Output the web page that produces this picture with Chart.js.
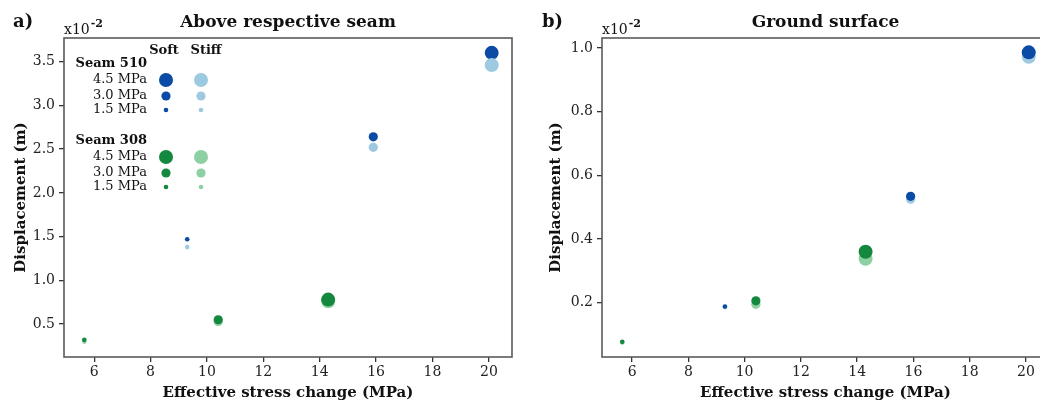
<!DOCTYPE html>
<html>
<head>
<meta charset="utf-8">
<script src="https://cdn.jsdelivr.net/npm/chart.js@4.4.0/dist/chart.umd.min.js"></script>
<style>
  html, body { margin: 0; padding: 0; background: #fff; overflow: hidden; }
  #wrap { position: relative; width: 1040px; height: 402px; overflow: hidden; }
  #ca { position: absolute; left: 0; top: 0; }
  #cb { position: absolute; left: 520px; top: 0; }
</style>
</head>
<body>
<div id="wrap">
  <div id="ca" style="width:520px;height:402px"><canvas id="chartA"></canvas></div>
  <div id="cb" style="width:540px;height:402px"><canvas id="chartB"></canvas></div>
</div>
<script>
// ---- data (displacement in units of 1e-2 m) ----
const seam510X = [9.3, 15.9, 20.1];
const seam308X = [5.65, 10.4, 14.3];
const pressures = [1.5, 3.0, 4.5];        // MPa, sets marker size
const aboveSoft510  = [1.47, 2.64, 3.60];
const aboveStiff510 = [1.38, 2.52, 3.46];
const aboveSoft308  = [0.32, 0.55, 0.78];
const aboveStiff308 = [0.30, 0.53, 0.76];
const groundSoft510  = [0.188, 0.534, 0.986];
const groundStiff510 = [0.186, 0.525, 0.972];
const groundSoft308  = [0.077, 0.206, 0.360];
const groundStiff308 = [0.075, 0.195, 0.338];
const xTicks = [6, 8, 10, 12, 14, 16, 18, 20];
const yTicksA = [0.5, 1.0, 1.5, 2.0, 2.5, 3.0, 3.5];
const yTicksB = [0.2, 0.4, 0.6, 0.8, 1.0];

const COL = { soft510: '#0b4aa5', stiff510: '#9ecae1', soft308: '#15883f', stiff308: '#8dd0a3' };
const SERIF = '"DejaVu Serif", "Liberation Serif", serif';
const radiusFor = p => (p === 4.5 ? 7 : p === 3.0 ? 4.6 : 2.3);

function pts(xs, ys) { return xs.map((x, i) => ({ x: x, y: ys[i] })); }
function ds(label, xs, ys, color, order) {
  return {
    label: label, data: pts(xs, ys), backgroundColor: color, borderWidth: 0,
    pointRadius: pressures.map(radiusFor), pointHoverRadius: pressures.map(radiusFor),
    order: order
  };
}

function framePlugin(opts) {
  return {
    id: 'frame' + opts.tag,
    afterDraw(chart) {
      const ctx = chart.ctx, a = chart.chartArea;
      ctx.save();
      ctx.strokeStyle = '#5a5a5a'; ctx.lineWidth = 1.6;
      ctx.strokeRect(a.left, a.top, a.right - a.left, a.bottom - a.top);
      ctx.fillStyle = '#111';
      // panel letter
      ctx.font = 'bold 18px ' + SERIF; ctx.textAlign = 'left'; ctx.textBaseline = 'middle';
      ctx.fillText(opts.letter, opts.letterX, 22);
      // title
      ctx.font = 'bold 17px ' + SERIF; ctx.textAlign = 'center';
      ctx.fillText(opts.title, (a.left + a.right) / 2 + (opts.titleDx || 0), 23);
      // exponent
      ctx.font = '14px ' + SERIF; ctx.textAlign = 'left'; ctx.textBaseline = 'alphabetic';
      ctx.fillText('x10', a.left, 34);
      const w = ctx.measureText('x10').width;
      ctx.font = 'bold 11px ' + SERIF;
      ctx.fillText('-2', a.left + w + 1, 27);
      // x title
      ctx.font = 'bold 15px ' + SERIF; ctx.textAlign = 'center'; ctx.textBaseline = 'middle';
      ctx.fillText('Effective stress change (MPa)', (a.left + a.right) / 2, 393);
      // y title
      ctx.save();
      ctx.translate(opts.yTitleX, (a.top + a.bottom) / 2);
      ctx.rotate(-Math.PI / 2);
      ctx.fillText('Displacement (m)', 0, 0);
      ctx.restore();
      if (opts.legend) drawLegend(chart);
      ctx.restore();
    }
  };
}

function drawLegend(chart) {
  const ctx = chart.ctx;
  const softX = 166, stiffX = 201, labR = 147;
  ctx.fillStyle = '#111'; ctx.textBaseline = 'middle';
  ctx.font = 'bold 13px ' + SERIF; ctx.textAlign = 'center';
  ctx.fillText('Soft', 164, 51);
  ctx.fillText('Stiff', 206, 51);
  const groups = [
    { name: 'Seam 510', y: 64, rows: [80, 96, 110], soft: COL.soft510, stiff: COL.stiff510 },
    { name: 'Seam 308', y: 141, rows: [157, 173, 187], soft: COL.soft308, stiff: COL.stiff308 }
  ];
  const labels = ['4.5 MPa', '3.0 MPa', '1.5 MPa'];
  const sizes = [4.5, 3.0, 1.5];
  groups.forEach(g => {
    ctx.font = 'bold 13px ' + SERIF; ctx.textAlign = 'right';
    ctx.fillText(g.name, labR, g.y);
    ctx.font = '13px ' + SERIF;
    g.rows.forEach((ry, i) => {
      ctx.fillText(labels[i], labR, ry);
      const r = radiusFor(sizes[i]);
      ctx.fillStyle = g.soft; ctx.beginPath(); ctx.arc(softX, ry, r, 0, Math.PI * 2); ctx.fill();
      ctx.fillStyle = g.stiff; ctx.beginPath(); ctx.arc(stiffX, ry, r, 0, Math.PI * 2); ctx.fill();
      ctx.fillStyle = '#111';
    });
  });
}

function scales(yMin, yMax, yTicks, yWidth, xHeight) {
  const tickFont = { family: SERIF, size: 14 };
  return {
    x: {
      type: 'linear', min: 4.93, max: 20.82,
      afterBuildTicks: s => { s.ticks = xTicks.map(v => ({ value: v })); },
      afterFit: s => { s.height = xHeight; },
      grid: { display: true, drawOnChartArea: false, drawTicks: true, tickLength: 5, color: '#333', lineWidth: 1.3 },
      border: { display: false },
      ticks: { font: tickFont, color: '#222', padding: 2, maxRotation: 0, callback: v => String(v) }
    },
    y: {
      type: 'linear', min: yMin, max: yMax,
      afterBuildTicks: s => { s.ticks = yTicks.map(v => ({ value: v })); },
      afterFit: s => { s.width = yWidth; },
      grid: { display: true, drawOnChartArea: false, drawTicks: true, tickLength: 5, color: '#333', lineWidth: 1.3 },
      border: { display: false },
      ticks: { font: tickFont, color: '#222', padding: 4, callback: v => Number(v).toFixed(1) }
    }
  };
}

const common = {
  responsive: true, maintainAspectRatio: false, animation: false,
  plugins: { legend: { display: false }, tooltip: { enabled: false }, title: { display: false } },
  events: []
};

new Chart(document.getElementById('chartA'), {
  type: 'scatter',
  data: { datasets: [
    ds('Seam 510 soft', seam510X, aboveSoft510, COL.soft510, 4),
    ds('Seam 510 stiff', seam510X, aboveStiff510, COL.stiff510, 3),
    ds('Seam 308 stiff', seam308X, aboveStiff308, COL.stiff308, 2),
    ds('Seam 308 soft', seam308X, aboveSoft308, COL.soft308, 1)
  ]},
  options: Object.assign({}, common, {
    layout: { padding: { top: 38, right: 8, left: 0, bottom: 0 } },
    scales: scales(0.124, 3.77, yTicksA, 64, 45)
  }),
  plugins: [framePlugin({ tag: 'A', letter: 'a)', letterX: 13, title: 'Above respective seam', yTitleX: 21, legend: true })]
});

new Chart(document.getElementById('chartB'), {
  type: 'scatter',
  data: { datasets: [
    ds('Seam 510 stiff', seam510X, groundStiff510, COL.stiff510, 4),
    ds('Seam 510 soft', seam510X, groundSoft510, COL.soft510, 3),
    ds('Seam 308 stiff', seam308X, groundStiff308, COL.stiff308, 2),
    ds('Seam 308 soft', seam308X, groundSoft308, COL.soft308, 1)
  ]},
  options: Object.assign({}, common, {
    layout: { padding: { top: 38, right: 11, left: 0, bottom: 0 } },
    scales: scales(0.0295, 1.031, yTicksB, 82, 45)
  }),
  plugins: [framePlugin({ tag: 'B', letter: 'b)', letterX: 22, title: 'Ground surface', yTitleX: 36, legend: false, titleDx: 0 })]
});
</script>
</body>
</html>
